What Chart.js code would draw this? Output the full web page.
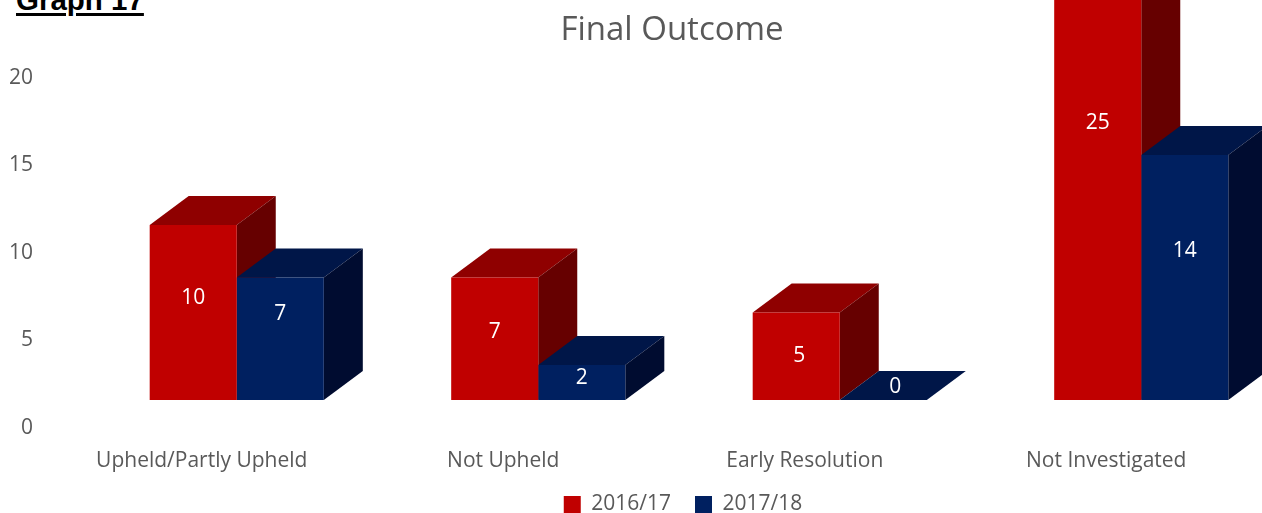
<!DOCTYPE html>
<html>
<head>
<meta charset="utf-8">
<title>Final Outcome</title>
<script src="https://cdn.jsdelivr.net/npm/chart.js@4/dist/chart.umd.min.js"></script>
<style>
  html, body { margin: 0; padding: 0; background: #fff; overflow: hidden; }
  #wrap { position: relative; width: 1262px; height: 513px; overflow: hidden; }
  #graphNo { position: absolute; left: 16px; top: -17px; font: bold 29.5px "Liberation Sans", sans-serif; color: #000;
    text-decoration: underline; text-decoration-thickness: 3px; text-underline-offset: 3px; }
  canvas { position: absolute; left: 0; top: 0; }
</style>
</head>
<body>
<div id="wrap">
  <div id="graphNo">Graph 17</div>
  <canvas id="outcomeChart" width="1292" height="513"></canvas>
</div>
<script>
const categories = ['Upheld/Partly Upheld', 'Not Upheld', 'Early Resolution', 'Not Investigated'];
const seriesNames = ['2016/17', '2017/18'];
const values2016 = [10, 7, 5, 25];
const values2017 = [7, 2, 0, 14];
const tickValues = [0, 5, 10, 15, 20];

const frontColors = ['#C00000', '#002060'];
const topColors = ['#8F0000', '#001648'];
const sideColors = ['#660000', '#000C30'];
const textColor = '#595959';
const fontName = '"Open Sans", sans-serif';

// fake 3d depth of the bars, and how far the floor sits above the 0 tick
const depthX = 39;
const depthY = 29;
const floorLift = 28 / 17.5;

// where the picture puts the value labels, relative to the middle of each bar
const labelNudge = [
  [[0, -14], [0, -7], [3, 0], [0, -58]],
  [[0, -25], [0, -4], [12, -13], [0, -26]]
];

function face(ctx, color, pts) {
  ctx.fillStyle = color;
  ctx.beginPath();
  pts.forEach((p, i) => i ? ctx.lineTo(p[0], p[1]) : ctx.moveTo(p[0], p[1]));
  ctx.closePath();
  ctx.fill();
}

const bars3d = {
  id: 'bars3d',
  afterLayout(chart) {
    // title and legend are not centred on the canvas in the original
    chart.titleBlock.left += 26;
    chart.titleBlock.right += 26;
    chart.legend.left += 37;
    chart.legend.right += 37;
    chart.legend.top = 494 - chart.legend.options.labels.padding;
    // x labels get clipped to the scale box otherwise
    chart.scales.x.bottom = 490;
  },
  beforeDatasetsDraw(chart) {
    const ctx = chart.ctx;
    ctx.save();
    chart.data.datasets.forEach((ds, d) => {
      chart.getDatasetMeta(d).data.forEach(bar => {
        const l = bar.x - bar.width / 2, r = bar.x + bar.width / 2;
        face(ctx, topColors[d], [[l, bar.y], [r, bar.y], [r + depthX, bar.y - depthY], [l + depthX, bar.y - depthY]]);
        face(ctx, sideColors[d], [[r, bar.y], [r + depthX, bar.y - depthY], [r + depthX, bar.base - depthY], [r, bar.base]]);
      });
    });
    ctx.restore();
  },
  afterDatasetsDraw(chart) {
    const ctx = chart.ctx;
    ctx.save();
    ctx.fillStyle = '#fff';
    ctx.font = '21px ' + fontName;
    ctx.textAlign = 'center';
    ctx.textBaseline = 'middle';
    chart.data.datasets.forEach((ds, d) => {
      chart.getDatasetMeta(d).data.forEach((bar, i) => {
        const n = labelNudge[d][i];
        ctx.fillText(ds.data[i], bar.x + n[0], (bar.y + bar.base) / 2 + n[1]);
      });
    });
    ctx.restore();
  }
};

new Chart(document.getElementById('outcomeChart'), {
  type: 'bar',
  data: {
    labels: categories,
    datasets: [
      { label: seriesNames[0], data: values2016, backgroundColor: frontColors[0], clip: false, yAxisID: 'y' },
      { label: seriesNames[1], data: values2017, backgroundColor: frontColors[1], clip: false, yAxisID: 'y' }
    ]
  },
  options: {
    responsive: false,
    animation: false,
    layout: { padding: 0 },
    datasets: { bar: { categoryPercentage: 0.5775, barPercentage: 1 } },
    scales: {
      x: {
        grid: { display: false, drawTicks: false },
        border: { display: false },
        ticks: { color: textColor, font: { family: fontName, size: 21 }, padding: 20, labelOffset: -35, maxRotation: 0 },
        afterFit: s => { s.height = 30; }
      },
      y: { display: false, min: -floorLift, max: 20 - floorLift },
      yTicks: {
        position: 'left',
        min: 0,
        max: 20,
        afterBuildTicks: s => { s.ticks = tickValues.map(v => ({ value: v })); },
        grid: { display: false, drawTicks: false },
        border: { display: false },
        ticks: { color: textColor, font: { family: fontName, size: 21 }, padding: 53 },
        afterFit: s => { s.width = 86; }
      }
    },
    plugins: {
      title: {
        display: true,
        text: 'Final Outcome',
        color: textColor,
        font: { family: fontName, size: 33, weight: 'normal' },
        padding: { top: 11, bottom: 27.4 }
      },
      legend: {
        position: 'bottom',
        labels: { color: textColor, font: { family: fontName, size: 21 }, boxWidth: 17, boxHeight: 17, padding: 24 }
      },
      tooltip: { enabled: false }
    }
  },
  plugins: [bars3d]
});
</script>
</body>
</html>
